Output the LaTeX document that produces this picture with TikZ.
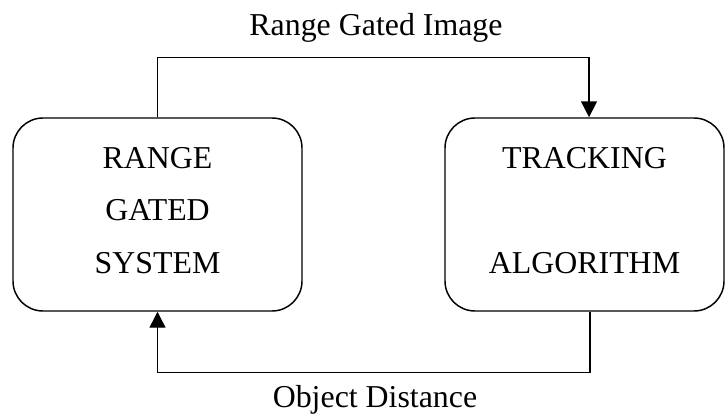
\documentclass[tikz,border=0pt]{standalone}
\usepackage{fontspec}
\setmainfont{Liberation Serif}
\usetikzlibrary{arrows.meta}

\tikzset{every picture/.style={line width=1.1pt}}
\tikzset{
  blockbox/.style={draw, rounded corners=22.5pt, minimum height=144.75pt,
    align=center, text depth=6.75pt, font=\fontsize{23.9}{39.4}\selectfont},
  flowline/.style={-{Triangle[length=12pt,width=12pt]}},
  flowlabel/.style={anchor=base, font=\fontsize{23.9}{28}\selectfont}
}

\begin{document}
\begin{tikzpicture}[x=0.75pt,y=0.75pt,yscale=-1,xscale=1]
	\useasboundingbox (0,0) rectangle (725,414);

	%Shape: Rounded Rect [id:gsys] 
	\node [blockbox, minimum width=216.75pt] (gsys) at (157.5,214.5) {RANGE\\GATED\\SYSTEM};
	%Shape: Rounded Rect [id:track] 
	\node [blockbox, minimum width=209.25pt] (track) at (584.5,214.5) {TRACKING\\\mbox{}\\ALGORITHM};

	%Straight Lines [id:imgline] 
	\draw [flowline] (gsys.north) -- ++(0,-60) -| ([xshift=3.4pt]track.north);
	%Straight Lines [id:distline] 
	\draw [flowline] ([xshift=4pt]track.south) -- ++(0,61) -| (gsys.south);

	% Text Node
	\node [flowlabel] (imglabel) at (376,36) {Range Gated Image};
	% Text Node
	\node [flowlabel] (distlabel) at (375,407) {Object Distance};

\end{tikzpicture}
\end{document}
